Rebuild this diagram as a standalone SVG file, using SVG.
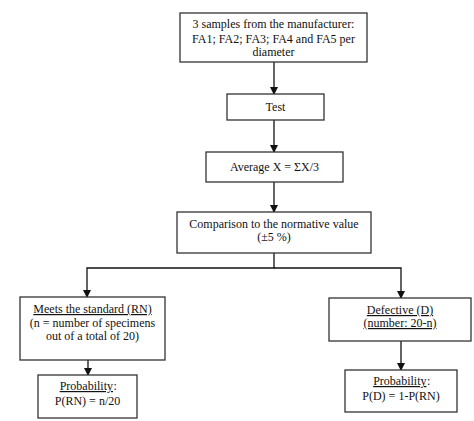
<svg xmlns="http://www.w3.org/2000/svg" width="474" height="421" viewBox="0 0 474 421">
<defs>
<marker id="arr" markerWidth="8" markerHeight="8" refX="7" refY="4" orient="auto" markerUnits="userSpaceOnUse">
<path d="M0,0 L8,4 L0,8 Z" fill="#111"/>
</marker>
<style>
.box{fill:#fff;stroke:#333;stroke-width:1.3}
.t{font-family:"Liberation Serif","Times New Roman",serif;font-size:12px;fill:#111;text-anchor:middle}
.e{text-anchor:end}
.s{text-anchor:start}
.u{text-decoration:underline}
.c{fill:none;stroke:#111;stroke-width:1.3}
</style>
</defs>
<rect width="474" height="421" fill="#fff"/>
<g id="connectors">
<line class="c" x1="274" y1="62" x2="274" y2="94" marker-end="url(#arr)"/>
<line class="c" x1="274" y1="120" x2="274" y2="152" marker-end="url(#arr)"/>
<line class="c" x1="274" y1="182" x2="274" y2="212" marker-end="url(#arr)"/>
<polyline class="c" points="274,253 274,268 87,268 87,297" marker-end="url(#arr)"/>
<polyline class="c" points="274,268 401,268 401,298" marker-end="url(#arr)"/>
<line class="c" x1="88" y1="360" x2="88" y2="375" marker-end="url(#arr)"/>
<line class="c" x1="401" y1="341" x2="401" y2="370" marker-end="url(#arr)"/>
</g>
<g id="n1">
<rect class="box" x="180" y="13" width="187" height="49"/>
<text class="t" x="273.5" y="28">3 samples from the manufacturer:</text>
<text class="t" x="273.5" y="43">FA1; FA2; FA3; FA4 and FA5 per</text>
<text class="t" x="273.5" y="56">diameter</text>
</g>
<g id="n2">
<rect class="box" x="227" y="94" width="97" height="26"/>
<text class="t" x="275.5" y="111">Test</text>
</g>
<g id="n3">
<rect class="box" x="206" y="152" width="137" height="30"/>
<text class="t" x="274.5" y="171">Average X = ΣX/3</text>
</g>
<g id="n4">
<rect class="box" x="177" y="212" width="194" height="41"/>
<text class="t" x="274" y="228">Comparison to the normative value</text>
<text class="t" x="274" y="241">(±5 %)</text>
</g>
<g id="n5">
<rect class="box" x="20" y="297" width="145" height="63"/>
<text class="t u" x="92.5" y="313">Meets the standard (RN)</text>
<text class="t" x="92.5" y="327">(n = number of specimens</text>
<text class="t" x="92.5" y="340">out of a total of 20)</text>
</g>
<g id="n6">
<rect class="box" x="329" y="298" width="142" height="43"/>
<text class="t u" x="400" y="314">Defective (D)</text>
<text class="t u" x="400" y="327">(number: 20-n)</text>
</g>
<g id="n7">
<rect class="box" x="38" y="375" width="99" height="43"/>
<text class="t e u" x="113" y="390">Probability</text>
<text class="t s" x="113.5" y="390">:</text>
<text class="t" x="87.5" y="405">P(RN) = n/20</text>
</g>
<g id="n8">
<rect class="box" x="345" y="370" width="112" height="42"/>
<text class="t e u" x="426.5" y="385">Probability</text>
<text class="t s" x="427" y="385">:</text>
<text class="t" x="401" y="400">P(D) = 1-P(RN)</text>
</g>
</svg>
